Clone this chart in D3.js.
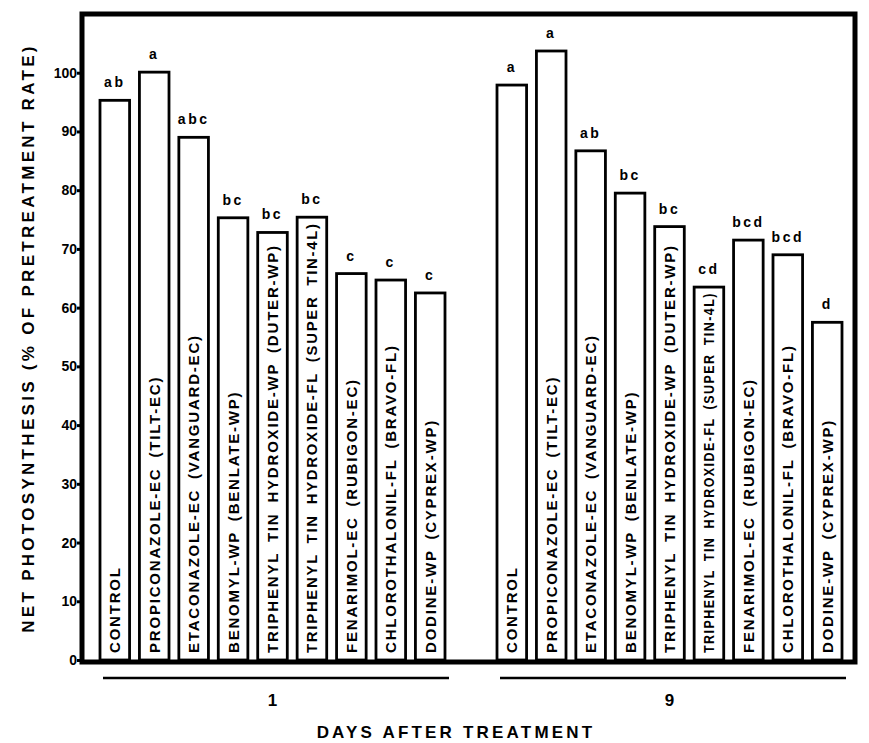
<!DOCTYPE html>
<html>
<head>
<meta charset="utf-8">
<script src="https://cdn.jsdelivr.net/npm/d3@7"></script>
<style>
    body { margin: 0; background: #fff; }
    text { font-family: "Liberation Sans", Arial, sans-serif; font-weight: bold; fill: #000; }
</style>
</head>
<body>
<div id="main"></div>
<script>
var ctx = {
    w: 869,
    h: 743,
};

// data
var days = ["1", "9"];
var treatments = [
    "CONTROL",
    "PROPICONAZOLE-EC (TILT-EC)",
    "ETACONAZOLE-EC (VANGUARD-EC)",
    "BENOMYL-WP (BENLATE-WP)",
    "TRIPHENYL TIN HYDROXIDE-WP (DUTER-WP)",
    "TRIPHENYL TIN HYDROXIDE-FL (SUPER TIN-4L)",
    "FENARIMOL-EC (RUBIGON-EC)",
    "CHLOROTHALONIL-FL (BRAVO-FL)",
    "DODINE-WP (CYPREX-WP)",
];
var day1Values = [95.3, 100.1, 89.0, 75.3, 72.8, 75.4, 65.8, 64.7, 62.5];
var day9Values = [97.9, 103.7, 86.7, 79.5, 73.8, 63.5, 71.5, 69.0, 57.5];
var day1Letters = ["ab", "a", "abc", "bc", "bc", "bc", "c", "c", "c"];
var day9Letters = ["a", "a", "ab", "bc", "bc", "cd", "bcd", "bcd", "d"];
var yTicks = [0, 10, 20, 30, 40, 50, 60, 70, 80, 90, 100];

var createChart = function (svg) {
    var rows = [];
    days.forEach(function (day, k) {
        var vals = k == 0 ? day1Values : day9Values;
        var lets = k == 0 ? day1Letters : day9Letters;
        treatments.forEach(function (t, i) {
            rows.push({ day: day, name: t, value: vals[i], letters: lets[i] });
        });
    });

    var y = d3.scaleLinear().domain([0, 110]).range([660, 14]);

    var xDay = d3
        .scaleBand()
        .domain(days)
        .range([100, 842])
        .paddingInner(0.131);

    var xT = d3
        .scaleBand()
        .domain(treatments)
        .range([0, xDay.bandwidth()])
        .paddingInner(0.25);

    // frame
    svg.append("rect")
        .attr("x", 82)
        .attr("y", 14)
        .attr("width", 773)
        .attr("height", 648)
        .attr("fill", "none")
        .attr("stroke", "#000")
        .attr("stroke-width", 5);

    // y axis ticks
    var yAxis = d3
        .axisLeft(y)
        .tickValues(yTicks)
        .tickSize(5)
        .tickPadding(0);
    var ga = svg.append("g").attr("transform", "translate(82,0)").call(yAxis);
    ga.select(".domain").remove();
    ga.selectAll(".tick line").attr("stroke", "#000").attr("stroke-width", 3);
    ga.selectAll(".tick text")
        .attr("font-size", 14)
        .attr("font-family", "Liberation Sans, Arial, sans-serif")
        .attr("font-weight", "bold")
        .attr("fill", "#000");

    // bars
    var bars = svg
        .selectAll("g.bar")
        .data(rows)
        .enter()
        .append("g")
        .attr("class", "bar")
        .attr("transform", (d) => `translate(${xDay(d.day) + xT(d.name)},0)`);

    bars.append("rect")
        .attr("x", 0)
        .attr("y", (d) => y(d.value))
        .attr("width", xT.bandwidth())
        .attr("height", (d) => y(0) - y(d.value))
        .attr("fill", "#fff")
        .attr("stroke", "#000")
        .attr("stroke-width", 2.8);

    // significance letters
    bars.append("text")
        .attr("x", xT.bandwidth() / 2)
        .attr("y", (d) => y(d.value) - 13)
        .attr("text-anchor", "middle")
        .attr("font-size", 14)
        .attr("letter-spacing", 2.5)
        .text((d) => d.letters);

    // treatment names inside bars
    bars.append("text")
        .attr("class", "name")
        .attr(
            "transform",
            (d) => `translate(${xT.bandwidth() / 2 + 5.5},${y(0) - 7}) rotate(-90)`
        )
        .attr("font-size", 15)
        .attr("letter-spacing", 1.8)
        .attr("word-spacing", 4)
        .text((d) => d.name);

    // squeeze names that do not fit
    svg.selectAll("text.name").each(function (d) {
        var room = y(0) - y(d.value) - 12;
        if (this.getComputedTextLength() > room) {
            d3.select(this)
                .attr("textLength", room)
                .attr("lengthAdjust", "spacingAndGlyphs");
        }
    });

    // day underlines and labels
    var gd = svg.selectAll("g.day").data(days).enter().append("g");
    gd.append("line")
        .attr("x1", (d) => xDay(d) + 3)
        .attr("x2", (d) => xDay(d) + xDay.bandwidth() + 4)
        .attr("y1", 678)
        .attr("y2", 678)
        .attr("stroke", "#000")
        .attr("stroke-width", 2.5);
    gd.append("text")
        .attr("x", (d) => xDay(d) + xDay.bandwidth() / 2)
        .attr("y", 706)
        .attr("text-anchor", "middle")
        .attr("font-size", 17)
        .text((d) => d);

    // axis titles
    svg.append("text")
        .attr("x", 456)
        .attr("y", 738)
        .attr("text-anchor", "middle")
        .attr("font-size", 17)
        .attr("letter-spacing", 3.2)
        .text("DAYS AFTER TREATMENT");

    svg.append("text")
        .attr("transform", "translate(34,338) rotate(-90)")
        .attr("text-anchor", "middle")
        .attr("font-size", 17)
        .attr("letter-spacing", 3.3)
        .text("NET PHOTOSYNTHESIS (% OF PRETREATMENT RATE)");
};

var createViz = function () {
    var svgEl = d3.select("#main").append("svg");
    svgEl.attr("width", ctx.w);
    svgEl.attr("height", ctx.h);
    createChart(svgEl);
};

createViz();
</script>
</body>
</html>
